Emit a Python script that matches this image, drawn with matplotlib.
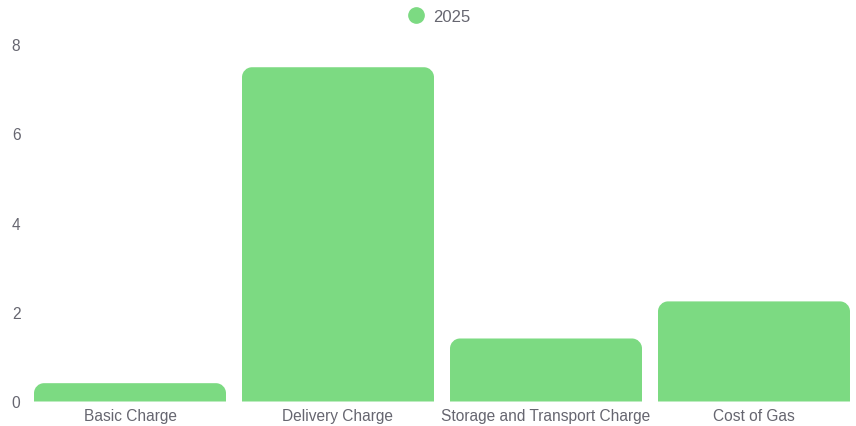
import matplotlib
matplotlib.use("Agg")
import matplotlib.pyplot as plt
from matplotlib.path import Path
from matplotlib.patches import PathPatch
from matplotlib.lines import Line2D

categories = ["Basic Charge", "Delivery Charge", "Storage and Transport Charge", "Cost of Gas"]
values_2025 = [0.41, 7.48, 1.41, 2.24]
series_name = "2025"
y_ticks = [0, 2, 4, 6, 8]

bar_color = "#7CDA82"
text_color = "#666670"

plt.rcParams['font.family'] = ['Liberation Sans', 'DejaVu Sans']

fig = plt.figure(figsize=(8.56, 4.27), dpi=100)
ax = fig.add_axes([26/856, (427-402.5)/427, (858-26)/856, (402.5-45)/427])

x = list(range(len(categories)))
bars = ax.bar(x, values_2025, width=0.923, color=bar_color)
ax.set_xlim(-0.5, len(categories) - 0.5)
ax.set_ylim(0, 8)
ax.set_yticks(y_ticks)
ax.set_yticklabels([str(t) for t in y_ticks])
ax.set_xticks(x)
ax.set_xticklabels(categories)
for s in ax.spines.values():
    s.set_visible(False)
ax.tick_params(axis='both', length=0, colors=text_color, labelsize=11.2)
ax.tick_params(axis='y', pad=4)
ax.tick_params(axis='x', pad=5)

# Replace bars with rounded-top versions
fig.canvas.draw()
r = 10.0
for b in bars:
    x0, y0 = b.get_x(), b.get_y()
    w, h = b.get_width(), b.get_height()
    (px0, py0) = ax.transData.transform((x0, y0))
    (px1, py1) = ax.transData.transform((x0 + w, y0 + h))
    rr = min(r, (py1 - py0), (px1 - px0) / 2)
    k = 0.5523
    verts = [
        (px0, py0),
        (px1, py0),
        (px1, py1 - rr),
        (px1, py1 - rr + k * rr), (px1 - rr + k * rr, py1), (px1 - rr, py1),
        (px0 + rr, py1),
        (px0 + rr - k * rr, py1), (px0, py1 - rr + k * rr), (px0, py1 - rr),
        (px0, py0),
    ]
    codes = [Path.MOVETO, Path.LINETO, Path.LINETO,
             Path.CURVE4, Path.CURVE4, Path.CURVE4,
             Path.LINETO,
             Path.CURVE4, Path.CURVE4, Path.CURVE4,
             Path.CLOSEPOLY]
    patch = PathPatch(Path(verts, codes), facecolor=bar_color, edgecolor='none',
                      transform=None)
    fig.add_artist(patch)
    b.set_visible(False)

handle = Line2D([], [], marker='o', linestyle='none', markersize=11,
                markerfacecolor=bar_color, markeredgecolor=bar_color)
fig.legend([handle], [series_name], loc='center', bbox_to_anchor=(438/856, 1 - 17/427),
           frameon=False, fontsize=12, labelcolor=text_color,
           handletextpad=0.45, handlelength=1.2)

fig.savefig("out.png", dpi=100)
